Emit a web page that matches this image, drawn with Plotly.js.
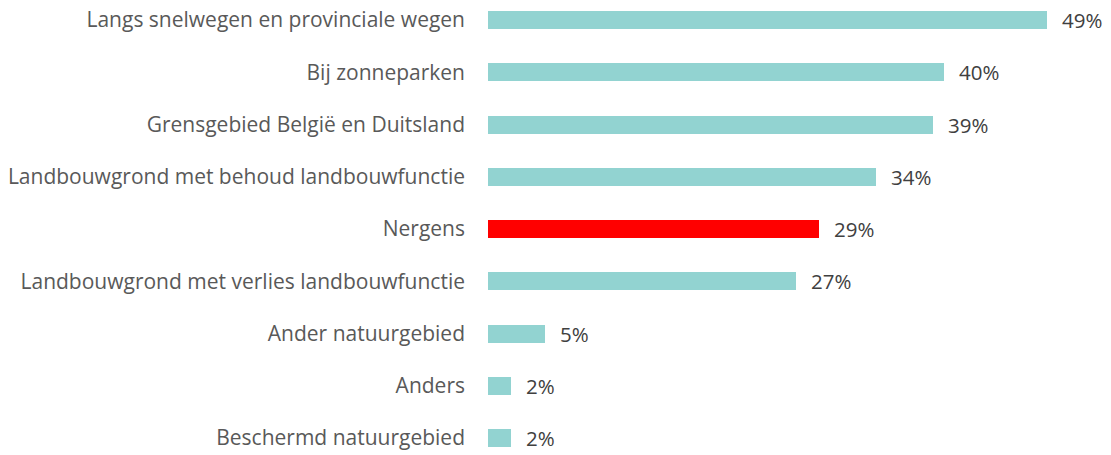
<!DOCTYPE html>
<html>
<head>
<meta charset="utf-8">
<script src="https://cdn.plot.ly/plotly-3.0.1.min.js"></script>
<style>html,body{margin:0;padding:0;background:#fff;}#chart{width:1111px;height:455px;}</style>
</head>
<body>
<div id="chart"></div>
<script>
const categories = [
  "Langs snelwegen en provinciale wegen",
  "Bij zonneparken",
  "Grensgebied België en Duitsland",
  "Landbouwgrond met behoud landbouwfunctie",
  "Nergens",
  "Landbouwgrond met verlies landbouwfunctie",
  "Ander natuurgebied",
  "Anders",
  "Beschermd natuurgebied"
];
const values = [49, 40, 39, 34, 29, 27, 5, 2, 2];
const valueLabels = ["49%", "40%", "39%", "34%", "29%", "27%", "5%", "2%", "2%"];
const highlight = "Nergens";

const colors = categories.map(c => c === highlight ? "#FF0000" : "#92D3D1");
const FONT = "Open Sans, Liberation Sans, sans-serif";

const trace = {
  type: "bar",
  orientation: "h",
  y: categories,
  x: values,
  width: 0.345,
  marker: {color: colors},
  hoverinfo: "none"
};

const annotations = categories.map((c, i) => ({
  x: values[i], y: c, xref: "x", yref: "y",
  text: valueLabels[i], showarrow: false,
  xanchor: "left", yanchor: "middle", xshift: 13,
  font: {family: FONT, size: 20.5, color: "#404040"}
}));

const layout = {
  width: 1111, height: 455,
  margin: {l: 488, r: 64, t: 0, b: 0, pad: 0},
  paper_bgcolor: "#ffffff", plot_bgcolor: "#ffffff",
  showlegend: false,
  bargap: 0,
  xaxis: {range: [0, 49], visible: false, showgrid: false, zeroline: false, fixedrange: true},
  yaxis: {
    type: "category",
    range: [8.325, -0.383],
    showgrid: false, zeroline: false, showline: false,
    ticks: "", ticklabelstandoff: 22,
    tickfont: {family: FONT, size: 21, color: "#595959"},
    fixedrange: true
  },
  annotations: annotations
};

Plotly.newPlot("chart", [trace], layout, {displayModeBar: false, staticPlot: true});
</script>
</body>
</html>
